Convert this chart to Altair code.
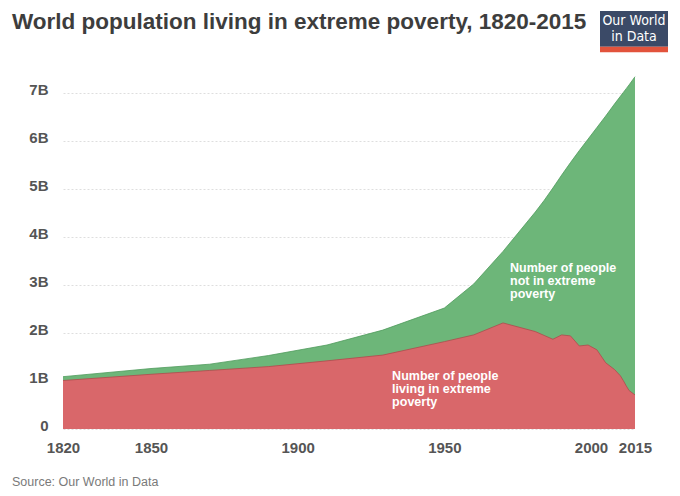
import altair as alt
import pandas as pd

years = [1820, 1850, 1870, 1890, 1910, 1929, 1950, 1960, 1970, 1981, 1984, 1987,
         1990, 1993, 1996, 1999, 2002, 2005, 2008, 2010, 2011, 2012, 2013, 2015]
total_pop = [1.09, 1.26, 1.35, 1.53, 1.75, 2.06, 2.52, 3.02, 3.70, 4.52, 4.76, 5.02,
             5.29, 5.55, 5.80, 6.04, 6.28, 6.52, 6.77, 6.93, 7.01, 7.09, 7.17, 7.34]
in_poverty = [1.01, 1.14, 1.22, 1.30, 1.42, 1.54, 1.82, 1.96, 2.21, 2.03, 1.95, 1.87,
              1.96, 1.94, 1.73, 1.75, 1.65, 1.38, 1.24, 1.11, 1.01, 0.90, 0.80, 0.71]

x_ticks = [1820, 1850, 1900, 1950, 2000, 2015]
y_ticks = [0, 1, 2, 3, 4, 5, 6, 7]

title_text = "World population living in extreme poverty, 1820-2015"
source_text = "Source: Our World in Data"
label_not_poor = ["Number of people", "not in extreme", "poverty"]
label_poor = ["Number of people", "living in extreme", "poverty"]

RED = "#d9676a"
RED_LINE = "#b04a4c"
GREEN = "#6db679"
GREEN_LINE = "#4f9a5c"
FONT = "Liberation Sans"
LOGO_FONT = "DejaVu Sans Condensed, Roboto, sans-serif"

df = pd.DataFrame({"year": years, "total": total_pop, "poor": in_poverty})

W, H = 572, 360

xscale = alt.Scale(domain=[1820, 2015], nice=False, zero=False)
yscale = alt.Scale(domain=[0, 7.5], nice=False)

x_enc = alt.X("year:Q", scale=xscale, axis=alt.Axis(
    values=x_ticks, format="d", title=None, grid=False, domain=False, ticks=False,
    labelFont=FONT, labelFontSize=15, labelFontWeight="bold", labelColor="#555555",
    labelPadding=11, labelFlush=False))

base = alt.Chart(df)

green_area = base.mark_area(color=GREEN, opacity=1).encode(
    x=x_enc,
    y=alt.Y("total:Q", scale=yscale, axis=alt.Axis(
        values=y_ticks, title=None, domain=False, ticks=False,
        grid=True, gridColor="#d6d6d6", gridDash=[2, 2], gridWidth=0.8,
        labelExpr="datum.value == 0 ? '0' : datum.value + 'B'",
        labelFont=FONT, labelFontSize=15, labelFontWeight="bold", labelColor="#555555",
        labelPadding=15, labelOffset=-4)),
)
green_line = base.mark_line(color=GREEN_LINE, strokeWidth=0.8).encode(
    x=alt.X("year:Q", scale=xscale), y=alt.Y("total:Q", scale=yscale))
red_area = base.mark_area(color=RED, opacity=1).encode(
    x=alt.X("year:Q", scale=xscale), y=alt.Y("poor:Q", scale=yscale))
red_line = base.mark_line(color=RED_LINE, strokeWidth=0.8).encode(
    x=alt.X("year:Q", scale=xscale), y=alt.Y("poor:Q", scale=yscale))

ann = pd.DataFrame({
    "year": [1972.4, 1932.2],
    "val": [3.35, 1.11],
    "txt": [label_not_poor, label_poor],
})
ann_text = alt.Chart(ann).mark_text(
    align="left", baseline="middle", color="white", font=FONT, fontSize=12.5,
    fontWeight="bold", lineHeight=13).encode(
    x=alt.X("year:Q", scale=xscale), y=alt.Y("val:Q", scale=yscale), text="txt:N")

one = pd.DataFrame({"t": [title_text], "s": [source_text]})
title_mark = alt.Chart(one).mark_text(
    align="left", baseline="alphabetic", color="#3d3d3d", font=FONT, fontSize=22.5,
    fontWeight="bold").encode(x=alt.value(12 - 63), y=alt.value(29 - 69), text="t:N")
source_mark = alt.Chart(one).mark_text(
    align="left", baseline="middle", color="#7a7a7a", font=FONT, fontSize=12.5).encode(
    x=alt.value(12 - 63), y=alt.value(481.5 - 69), text="s:N")

logo_box = alt.Chart(one).mark_rect(color="#3b4a67").encode(
    x=alt.value(600 - 63), x2=alt.value(668 - 63),
    y=alt.value(11 - 69), y2=alt.value(46.7 - 69))
logo_bar = alt.Chart(one).mark_rect(color="#e2533c").encode(
    x=alt.value(600 - 63), x2=alt.value(668 - 63),
    y=alt.value(46.7 - 69), y2=alt.value(52.3 - 69))
logo_l1 = alt.Chart(pd.DataFrame({"t": ["Our World"]})).mark_text(
    align="center", baseline="middle", color="white", font=LOGO_FONT,
    fontSize=14).encode(x=alt.value(634 - 63), y=alt.value(20.5 - 69), text="t:N")
logo_l2 = alt.Chart(pd.DataFrame({"t": ["in Data"]})).mark_text(
    align="center", baseline="middle", color="white", font=LOGO_FONT,
    fontSize=14).encode(x=alt.value(634 - 63), y=alt.value(37 - 69), text="t:N")

chart = alt.layer(
    green_area, green_line, red_area, red_line, ann_text,
    title_mark, source_mark, logo_box, logo_bar, logo_l1, logo_l2
).properties(
    width=W, height=H,
    autosize=alt.AutoSizeParams(type="none"),
    padding={"left": 55, "top": 61, "right": 37, "bottom": 58},
).configure(background="white", view=alt.ViewConfig(stroke=None))

chart.save("out.html", embed_options={"renderer": "svg", "actions": False})
